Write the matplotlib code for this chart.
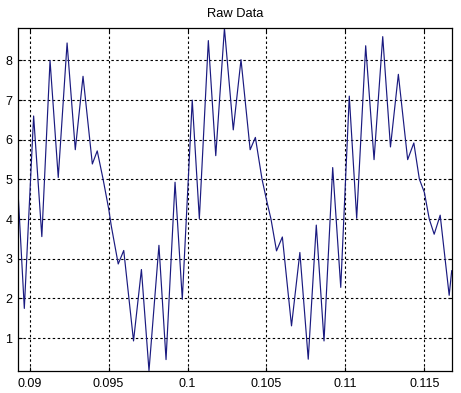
import matplotlib
matplotlib.use("Agg")
import matplotlib.pyplot as plt

# time (s) and amplitude at the extrema / turning points
t = [0.08926, 0.08966, 0.09025, 0.09077, 0.09129, 0.09181, 0.09237, 0.09289,
     0.09338, 0.09397, 0.09428, 0.09465, 0.09501, 0.09517, 0.09561, 0.09596,
     0.09658, 0.09708, 0.09756, 0.09819, 0.09864, 0.09921, 0.09967, 0.10030,
     0.10075, 0.10132, 0.10179, 0.10234, 0.10290, 0.10339, 0.10397, 0.10430,
     0.10472, 0.10502, 0.10529, 0.10564, 0.10601, 0.10659, 0.10712, 0.10765,
     0.10816, 0.10865, 0.10920, 0.10971, 0.11025, 0.11072, 0.11129, 0.11182,
     0.11237, 0.11286, 0.11336, 0.11395, 0.11434, 0.11469, 0.11501, 0.11532,
     0.11563, 0.11601, 0.11658, 0.11674]
amp = [4.70, 1.75, 6.60, 3.56, 8.00, 5.05, 8.44, 5.75,
       7.60, 5.39, 5.72, 5.01, 4.25, 3.83, 2.87, 3.21,
       0.93, 2.73, 0.18, 3.34, 0.46, 4.93, 1.98, 7.00,
       4.01, 8.50, 5.60, 8.81, 6.25, 8.02, 5.75, 6.06,
       5.01, 4.46, 4.00, 3.20, 3.55, 1.31, 3.16, 0.47,
       3.85, 0.93, 5.30, 2.28, 7.10, 4.02, 8.37, 5.50,
       8.60, 5.82, 7.65, 5.50, 5.92, 5.01, 4.67, 4.00,
       3.62, 4.10, 2.08, 2.70]

xticks = [0.09, 0.095, 0.1, 0.105, 0.11, 0.115]
xticklabels = ["0.09", "0.095", "0.1", "0.105", "0.11", "0.115"]
yticks = [1, 2, 3, 4, 5, 6, 7, 8]
title = "Raw Data"

plt.rcParams['font.family'] = ['Liberation Sans', 'DejaVu Sans']

fig = plt.figure(figsize=(4.61, 3.93), dpi=100, facecolor='white')
ax = fig.add_axes([18 / 461, (393 - 370.7) / 393, (451.7 - 18) / 461, (370.7 - 28.3) / 393])

ax.plot(t, amp, color='#1a1a80', linewidth=0.85)

ax.set_xlim(min(t), max(t))
ax.set_ylim(min(amp), max(amp))
ax.set_xticks(xticks)
ax.set_xticklabels(xticklabels)
ax.set_yticks(yticks)
ax.grid(True, color='black', linestyle=(0, (2.2, 2.2)), linewidth=0.8)
ax.tick_params(direction='in', length=3, width=0.8, labelsize=9, pad=4, colors='black')
ax.tick_params(axis='x', pad=5)
ax.tick_params(top=True, right=True)
for s in ax.spines.values():
    s.set_linewidth(0.9)
    s.set_color('black')
ax.set_title(title, fontsize=9.3, pad=8)

fig.savefig("out.png", dpi=100, facecolor='white')
